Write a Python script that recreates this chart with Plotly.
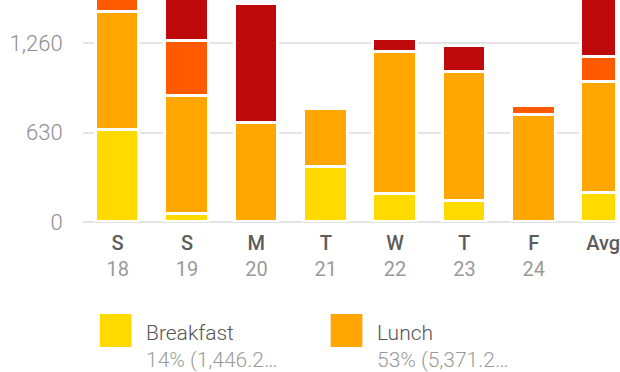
import plotly.graph_objects as go

# ---- data ----
days = ["S", "S", "M", "T", "W", "T", "F", "Avg"]
dates = ["18", "19", "20", "21", "22", "23", "24", ""]
breakfast = [645, 58, 0, 385, 195, 146, 0, 204]
lunch = [831, 830, 695, 410, 999, 908, 756, 778]
dinner = [828, 389, 0, 0, 0, 0, 64, 183]
snacks = [300, 900, 842, 0, 93, 184, 0, 420]
y_ticks = [0, 630, 1260]
y_tick_labels = ["0", "630", "1,260"]
legend_names = ["Breakfast", "Lunch"]
legend_details = ["14% (1,446.2…", "53% (5,371.2…"]

colors = {"Breakfast": "#FFDA00", "Lunch": "#FFA600", "Dinner": "#FF5A00", "Snacks": "#BE0A0A"}

W, H = 620, 372
ML, MR, MT, MB = 83, 0, 0, 150
PW, PH = W - ML - MR, H - MT - MB
CAT_PX = 70.0
Y_PER_PX = 630 / 89.5

x = list(range(len(days)))
fig = go.Figure()
for name, vals in [("Breakfast", breakfast), ("Lunch", lunch), ("Dinner", dinner), ("Snacks", snacks)]:
    fig.add_trace(go.Bar(
        x=x, y=vals, name=name, width=44 / CAT_PX,
        marker=dict(color=colors[name], line=dict(color="white", width=3)),
        showlegend=False, hoverinfo="skip",
    ))

ticktext = []
for d, n in zip(days, dates):
    if n:
        ticktext.append(f"<span style='color:#5c5c5c;font-weight:500'>{d}</span><br><span style='color:#9a9a9a'>{n}</span>")
    else:
        ticktext.append(f"<span style='color:#5c5c5c;font-weight:500'>{d}</span>")

FONT = "Roboto, 'Liberation Sans', Arial, sans-serif"

fig.update_layout(
    width=W, height=H,
    margin=dict(l=ML, r=MR, t=MT, b=MB, pad=0),
    barmode="stack", bargap=0,
    plot_bgcolor="white", paper_bgcolor="white",
    font=dict(family=FONT),
    xaxis=dict(
        range=[-0.5, -0.5 + PW / CAT_PX], tickmode="array", tickvals=x, ticktext=ticktext,
        showgrid=False, zeroline=False, showline=False,
        ticks="outside", ticklen=3, tickcolor="rgba(0,0,0,0)",
        ticklabeloverflow="allow",
        tickfont=dict(size=20, family=FONT, weight=400),
    ),
    yaxis=dict(
        range=[0, PH * Y_PER_PX], tickmode="array", tickvals=y_ticks, ticktext=y_tick_labels,
        showgrid=True, gridcolor="#e4e4e4", gridwidth=2,
        zeroline=True, zerolinecolor="#e4e4e4", zerolinewidth=2, showline=False,
        ticks="outside", ticklen=15, tickcolor="rgba(0,0,0,0)",
        tickfont=dict(size=22, color="#8e8e8e", family=FONT, weight=300),
    ),
)

def px_x(px):
    return (px - ML) / PW

def px_y(py):
    return (MT + PH - py) / PH

legend_x = [100, 333]
for i, (nm, det) in enumerate(zip(legend_names, legend_details)):
    x0 = legend_x[i]
    fig.add_shape(type="rect", xref="paper", yref="paper",
                  x0=px_x(x0), x1=px_x(x0 + 32), y0=px_y(347), y1=px_y(314),
                  fillcolor=colors[nm], line=dict(width=0))
    fig.add_annotation(xref="paper", yref="paper", x=px_x(x0 + 45), y=px_y(319),
                       xanchor="left", yanchor="top", showarrow=False, align="left",
                       text=f"<span style='color:#555555'>{nm}</span><br><span style='color:#9a9a9a'>{det}</span>",
                       font=dict(size=21, family=FONT, weight=300))

fig.write_html("out.html", config={"displayModeBar": False},
               post_script="document.body.style.margin='0';document.body.style.overflow='hidden';")
